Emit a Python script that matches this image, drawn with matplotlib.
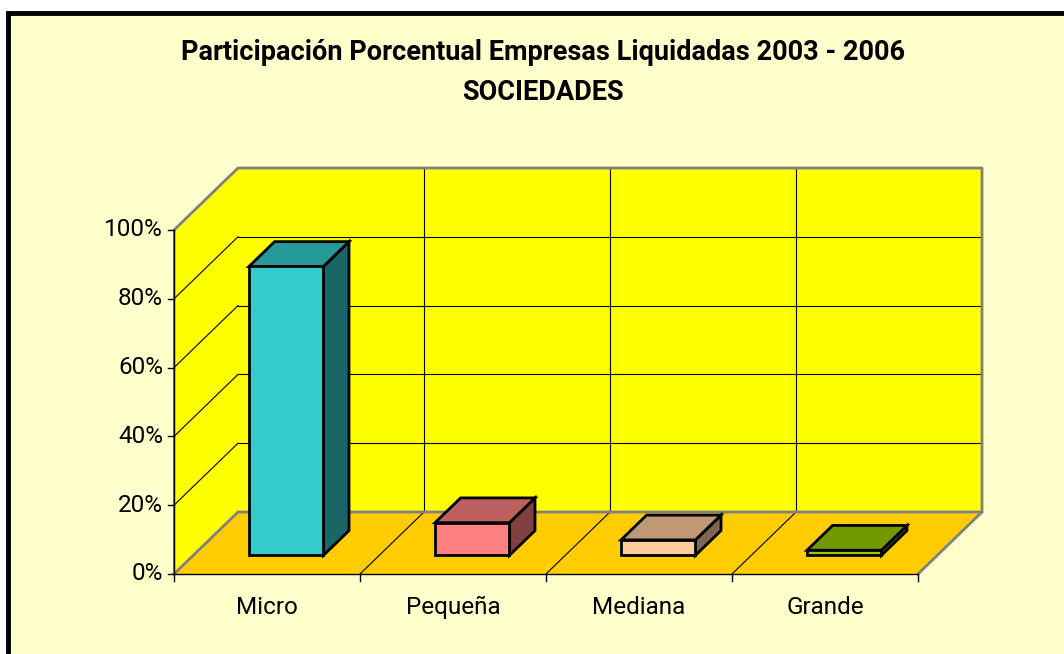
import matplotlib
matplotlib.use("Agg")
import matplotlib.pyplot as plt
from matplotlib.patches import Polygon

categories = ["Micro", "Pequeña", "Mediana", "Grande"]
shares = [84.0, 9.5, 4.5, 1.5]
y_ticks = [0, 20, 40, 60, 80, 100]
y_tick_labels = ["0%", "20%", "40%", "60%", "80%", "100%"]
title_lines = ["Participación Porcentual Empresas Liquidadas 2003 - 2006", "SOCIEDADES"]

front_colors = ["#33CCCC", "#FF8080", "#FFCC99", "#99CC00"]
top_colors = ["#269999", "#BF6060", "#BF9973", "#739900"]
side_colors = ["#1A6666", "#804040", "#806650", "#4D6600"]

plt.rcParams["font.family"] = ["Roboto", "DejaVu Sans"]

W, H = 1064, 654
fig = plt.figure(figsize=(W / 100, H / 100), dpi=100)
fig.patch.set_facecolor("white")
ax = fig.add_axes([0, 0, 1, 1])

# mapping: one category = 186 px, 100% = 344 px, origin at pixel (174, 574)
px_cat, px_pct = 186.0, 3.44
x0_px, y0_px = 174.0, 574.0
ax.set_xlim(-x0_px / px_cat, (W - x0_px) / px_cat)
ax.set_ylim(-(H - y0_px) / px_pct, y0_px / px_pct)
ax.axis("off")

# depth offset (full depth) in data units
DX = 64.0 / px_cat
DY = 62.0 / px_pct
n = len(categories)
ymax = y_ticks[-1]


def shift(x, y, z):
    return (x + DX * z, y + DY * z)


def px2data(px, py):
    return ((px - x0_px) / px_cat, (y0_px - py) / px_pct)


# outer chart area with thick black border (runs off right/bottom)
bx, by = px2data(8, 12.5)
bx2, by2 = px2data(W + 20, H + 20)
ax.add_patch(Polygon([(bx, by), (bx2, by), (bx2, by2), (bx, by2)], closed=True,
                     facecolor="#FFFFCC", edgecolor="black", lw=3.5, zorder=0))

wall = "#FFFF00"
floor = "#FFCC00"
edge = "#808080"

# back wall
back = [shift(0, 0, 1), shift(n, 0, 1), shift(n, ymax, 1), shift(0, ymax, 1)]
ax.add_patch(Polygon(back, closed=True, facecolor=wall, edgecolor="none", zorder=1))
# left wall
left = [shift(0, 0, 0), shift(0, 0, 1), shift(0, ymax, 1), shift(0, ymax, 0)]
ax.add_patch(Polygon(left, closed=True, facecolor=wall, edgecolor="none", zorder=1))

# gridlines on walls
for t in y_ticks[1:-1]:
    a, b = shift(0, t, 1), shift(n, t, 1)
    ax.plot([a[0], b[0]], [a[1], b[1]], color="black", lw=0.8, zorder=2)
    c = shift(0, t, 0)
    ax.plot([c[0], a[0]], [c[1], a[1]], color="black", lw=0.8, zorder=2)
for k in range(1, n):
    a, b = shift(k, 0, 1), shift(k, ymax, 1)
    ax.plot([a[0], b[0]], [a[1], b[1]], color="black", lw=0.8, zorder=2)

# floor
fl = [shift(0, 0, 0), shift(n, 0, 0), shift(n, 0, 1), shift(0, 0, 1)]
ax.add_patch(Polygon(fl, closed=True, facecolor=floor, edgecolor="none", zorder=3))
for k in range(1, n):
    a, b = shift(k, 0, 0), shift(k, 0, 1)
    ax.plot([a[0], b[0]], [a[1], b[1]], color="black", lw=0.8, zorder=4)

# gray outline of walls and floor
outline = [shift(0, 0, 0), shift(0, 0, 1), shift(n, 0, 1), shift(n, 0, 0)]
ax.plot(*zip(*outline), color=edge, lw=2, zorder=4)
outline2 = [shift(0, ymax, 0), shift(0, ymax, 1), shift(n, ymax, 1), shift(n, 0, 1)]
ax.plot(*zip(*outline2), color=edge, lw=2, zorder=4)
ax.plot([0, 0], [ymax, 0], color=edge, lw=1.5, zorder=4)

# axes (front)
ax.plot([0, 0], [0, ymax], color="black", lw=1.0, zorder=5)
ax.plot([0, n], [0, 0], color="black", lw=1.0, zorder=5)
tick_len = 6.0 / px_cat
for t, lab in zip(y_ticks, y_tick_labels):
    ax.plot([-tick_len, 0], [t, t], color="black", lw=1.0, zorder=5)
    ax.text(-11.0 / px_cat, t, lab, ha="right", va="center", fontsize=17.5, zorder=6)
for k in range(n + 1):
    ax.plot([k, k], [0, -7.0 / px_pct], color="black", lw=1.0, zorder=5)
for i, cat in enumerate(categories):
    ax.text(i + 0.5, -33.0 / px_pct, cat, ha="center", va="center", fontsize=17.5, zorder=6)

# 3D bars
w = 0.4
z0, z1 = 0.3, 0.7
for i, v in enumerate(shares):
    xl, xr = i + 0.5 - w / 2, i + 0.5 + w / 2
    front = [shift(xl, 0, z0), shift(xr, 0, z0), shift(xr, v, z0), shift(xl, v, z0)]
    side = [shift(xr, 0, z0), shift(xr, 0, z1), shift(xr, v, z1), shift(xr, v, z0)]
    top = [shift(xl, v, z0), shift(xr, v, z0), shift(xr, v, z1), shift(xl, v, z1)]
    for poly, col in ((side, side_colors[i]), (top, top_colors[i]), (front, front_colors[i])):
        ax.add_patch(Polygon(poly, closed=True, facecolor=col, edgecolor="black",
                             lw=2.0, joinstyle="miter", zorder=7))

# title
tx, ty1 = px2data(543, 52)
_, ty2 = px2data(543, 93)
for txt, ty in zip(title_lines, (ty1, ty2)):
    ax.text(tx, ty, txt, ha="center", va="center", fontsize=19.5, fontweight="bold", zorder=6)

fig.savefig("out.png", dpi=100)
